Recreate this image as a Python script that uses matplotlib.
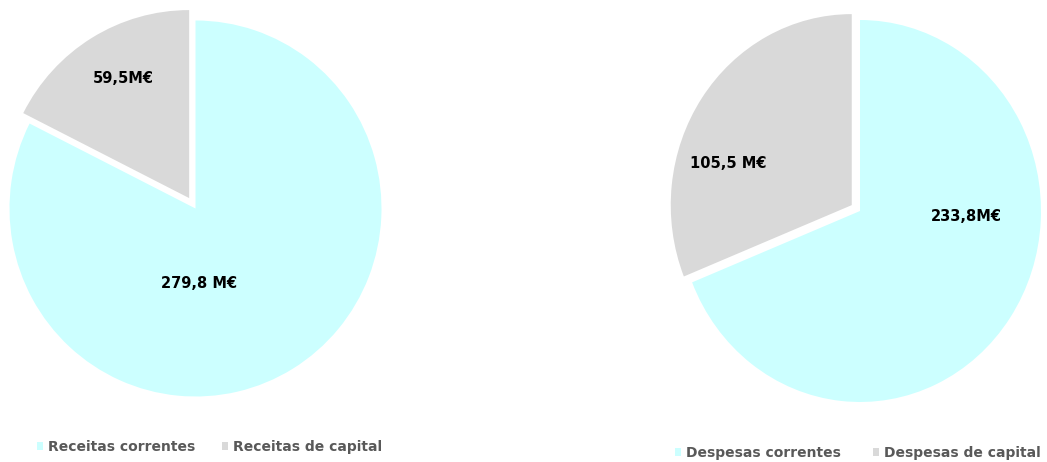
import matplotlib.pyplot as plt

# Data
receitas_labels = ["Receitas correntes", "Receitas de capital"]
receitas_values = [279.8, 59.5]
receitas_text = ["279,8 M€", "59,5M€"]

despesas_labels = ["Despesas correntes", "Despesas de capital"]
despesas_values = [233.8, 105.5]
despesas_text = ["233,8M€", "105,5 M€"]

colors = ["#CCFFFF", "#D9D9D9"]

W, H = 1047, 462
fig = plt.figure(figsize=(W / 100, H / 100), dpi=100)
plt.rcParams["font.family"] = ["DejaVu Sans"]

LIM = 1.2


def pie_axes(cx, cy, rx, ry):
    # cx, cy in pixels from top-left, rx/ry = pie radius in pixels
    w, h = 2 * LIM * rx, 2 * LIM * ry
    ax = fig.add_axes([(cx - w / 2) / W, (H - cy - h / 2) / H, w / W, h / H])
    return ax


def draw(ax, values, texts, explode, text_pos, labels, leg_xy, colsp):
    wedges, _ = ax.pie(values, colors=colors, startangle=90, counterclock=False,
                       explode=[0, explode], wedgeprops=dict(linewidth=0))
    ax.set_xlim(-LIM, LIM)
    ax.set_ylim(-LIM, LIM)
    ax.set_aspect("auto")
    ax.axis("off")
    for t, (x, y) in zip(texts, text_pos):
        ax.text(x, y, t, ha="center", va="center", fontsize=10.5,
                fontweight="bold", color="black")
    fig.legend(wedges, labels, loc="center left",
               bbox_to_anchor=(leg_xy[0] / W, 1 - leg_xy[1] / H),
               ncol=2, frameon=False, borderpad=0, borderaxespad=0,
               handlelength=0.45, handleheight=0.45, handletextpad=0.35,
               columnspacing=colsp,
               prop=dict(size=10, weight="bold"), labelcolor="#595959")


ax1 = pie_axes(195.5, 208.5, 186, 188)
draw(ax1, receitas_values, receitas_text, 0.065,
     [(0.02, -0.40), (-0.39, 0.69)], receitas_labels, (37, 447), 1.9)

ax2 = pie_axes(860, 211, 181, 191)
draw(ax2, despesas_values, despesas_text, 0.055,
     [(0.59, -0.03), (-0.73, 0.25)], despesas_labels, (675, 453), 2.3)

fig.savefig("out.png", dpi=100, facecolor="white")
